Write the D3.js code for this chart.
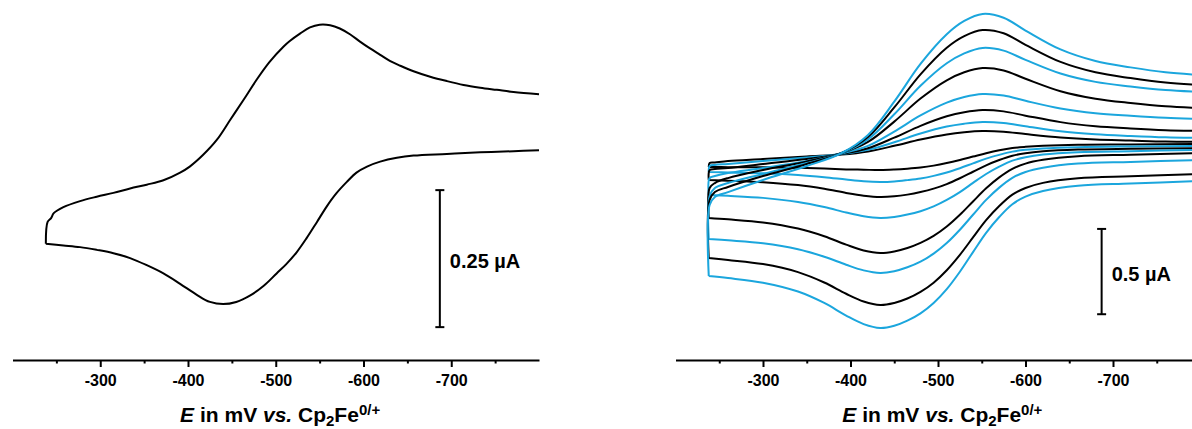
<!DOCTYPE html>
<meta charset="utf-8">
<script src="https://cdn.jsdelivr.net/npm/d3@7"></script>
<style>
  body { margin: 0; background: #fff; }
  svg { display: block; font-family: "Liberation Sans", Arial, sans-serif; }
  .axis path, .axis line { stroke: #000; stroke-width: 2px; }
  .axis text { font-size: 16px; font-weight: bold; fill: #000; font-family: "Liberation Sans", Arial, sans-serif; }
  .cv { fill: none; stroke-width: 2px; stroke-linejoin: round; }
  .bar { stroke: #000; stroke-width: 2px; }
  .label { font-size: 20px; font-weight: bold; }
  .title { font-size: 21px; font-weight: bold; }
</style>
<div id="chart"></div>
<script>
  var width = 1192;
  var height = 429;

  // axis ticks (mV)
  var majorTicks = [-300, -400, -500, -600, -700];
  var minorTicks = [-250, -350, -450, -550, -650, -750];

  // left panel: single CV, E in mV, i in uA
  var leftFwdE = [-238, -240, -244, -247, -258, -277, -296, -315, -334, -353, -372, -391, -402, -417, -433, -448, -463, -478, -493, -509, -516, -528, -539, -550, -562, -573, -585, -596, -607, -619, -630, -642, -657, -676, -695, -714, -733, -752, -771, -800];
  var leftFwdI = [-0.080, -0.040, -0.033, -0.024, -0.013, -0.002, 0.006, 0.013, 0.021, 0.028, 0.036, 0.050, 0.061, 0.082, 0.110, 0.146, 0.182, 0.219, 0.252, 0.280, 0.290, 0.304, 0.315, 0.320, 0.319, 0.313, 0.302, 0.289, 0.277, 0.265, 0.254, 0.245, 0.235, 0.225, 0.217, 0.210, 0.205, 0.201, 0.197, 0.193];
  var leftRevE = [-800, -771, -733, -695, -657, -638, -619, -604, -592, -581, -569, -558, -547, -535, -524, -512, -501, -486, -471, -455, -440, -425, -410, -391, -372, -353, -334, -315, -296, -277, -258, -238];
  var leftRevI = [0.091, 0.089, 0.087, 0.084, 0.081, 0.077, 0.070, 0.061, 0.050, 0.033, 0.012, -0.012, -0.040, -0.070, -0.095, -0.117, -0.134, -0.157, -0.174, -0.186, -0.190, -0.186, -0.173, -0.153, -0.134, -0.119, -0.106, -0.097, -0.091, -0.086, -0.083, -0.080];

  // right panel: scan-rate series, shared potentials
  var fwdE = [-238, -239, -245, -260, -300, -350, -390, -420, -450, -480, -510, -530, -551, -575, -600, -640, -680, -720, -760, -800];
  var revE = [-800, -720, -660, -620, -600, -585, -570, -555, -540, -525, -510, -495, -480, -465, -450, -434, -415, -395, -370, -340, -300, -260, -238];

  var c1Fwd = [-0.041, -0.018, -0.015, -0.006, 0.006, 0.021, 0.032, 0.050, 0.083, 0.120, 0.150, 0.163, 0.170, 0.166, 0.152, 0.132, 0.120, 0.114, 0.108, 0.106];
  var c1Rev = [0.094, 0.091, 0.089, 0.083, 0.077, 0.070, 0.057, 0.040, 0.020, 0, -0.018, -0.033, -0.044, -0.051, -0.056, -0.059, -0.057, -0.055, -0.050, -0.046, -0.043, -0.042, -0.041];
  var c2Fwd = [-0.070, -0.035, -0.029, -0.023, -0.006, 0.015, 0.035, 0.060, 0.104, 0.155, 0.196, 0.213, 0.223, 0.217, 0.198, 0.168, 0.151, 0.141, 0.133, 0.129];
  var c2Rev = [0.082, 0.079, 0.075, 0.068, 0.060, 0.049, 0.030, 0.008, -0.020, -0.048, -0.073, -0.093, -0.108, -0.118, -0.126, -0.129, -0.125, -0.115, -0.101, -0.088, -0.078, -0.073, -0.070];
  var c3Fwd = [-0.117, -0.059, -0.053, -0.047, -0.023, 0.006, 0.035, 0.069, 0.131, 0.200, 0.256, 0.280, 0.293, 0.285, 0.260, 0.222, 0.198, 0.185, 0.175, 0.170];
  var c3Rev = [0.070, 0.066, 0.061, 0.051, 0.040, 0.025, 0, -0.031, -0.069, -0.107, -0.141, -0.168, -0.188, -0.203, -0.213, -0.217, -0.209, -0.193, -0.169, -0.147, -0.130, -0.121, -0.117];
  var c4Fwd = [-0.205, -0.106, -0.094, -0.076, -0.047, -0.006, 0.038, 0.083, 0.167, 0.261, 0.336, 0.369, 0.387, 0.378, 0.347, 0.302, 0.274, 0.259, 0.247, 0.240];
  var c4Rev = [0.059, 0.052, 0.046, 0.032, 0.016, -0.004, -0.039, -0.082, -0.134, -0.188, -0.234, -0.272, -0.300, -0.320, -0.334, -0.340, -0.330, -0.308, -0.276, -0.246, -0.222, -0.210, -0.205];
  var c5Fwd = [-0.340, -0.164, -0.135, -0.106, -0.059, -0.009, 0.041, 0.106, 0.225, 0.360, 0.467, 0.514, 0.539, 0.525, 0.476, 0.403, 0.359, 0.334, 0.315, 0.305];
  var c5Rev = [0.041, 0.031, 0.022, 0.001, -0.021, -0.052, -0.102, -0.166, -0.243, -0.321, -0.390, -0.445, -0.486, -0.516, -0.536, -0.545, -0.530, -0.496, -0.447, -0.402, -0.366, -0.348, -0.340];
  var c6Fwd = [-0.463, -0.211, -0.164, -0.135, -0.082, -0.018, 0.041, 0.121, 0.268, 0.435, 0.567, 0.625, 0.657, 0.641, 0.587, 0.507, 0.458, 0.431, 0.410, 0.399];
  var c6Rev = [0, -0.011, -0.021, -0.045, -0.070, -0.105, -0.162, -0.234, -0.321, -0.409, -0.487, -0.549, -0.596, -0.629, -0.652, -0.662, -0.647, -0.614, -0.567, -0.523, -0.488, -0.471, -0.463];
  var c7Fwd = [-0.574, -0.234, -0.188, -0.158, -0.094, -0.023, 0.041, 0.135, 0.308, 0.502, 0.658, 0.726, 0.762, 0.743, 0.675, 0.575, 0.514, 0.480, 0.454, 0.440];
  var c7Rev = [-0.082, -0.095, -0.107, -0.134, -0.164, -0.203, -0.270, -0.353, -0.454, -0.556, -0.646, -0.719, -0.773, -0.812, -0.838, -0.850, -0.829, -0.784, -0.718, -0.657, -0.610, -0.586, -0.574];
  var c8Fwd = [-0.680, -0.264, -0.217, -0.188, -0.117, -0.035, 0.041, 0.147, 0.342, 0.563, 0.737, 0.815, 0.856, 0.834, 0.759, 0.648, 0.580, 0.543, 0.514, 0.498];
  var c8Rev = [-0.123, -0.138, -0.151, -0.182, -0.215, -0.259, -0.334, -0.427, -0.540, -0.655, -0.757, -0.838, -0.899, -0.942, -0.972, -0.985, -0.962, -0.912, -0.838, -0.771, -0.719, -0.692, -0.680];

  var rightSeries = [
    [c1Fwd, c1Rev], [c2Fwd, c2Rev], [c3Fwd, c3Rev], [c4Fwd, c4Rev],
    [c5Fwd, c5Rev], [c6Fwd, c6Rev], [c7Fwd, c7Rev], [c8Fwd, c8Rev]
  ];
  var seriesColor = ["#000", "#1ba6dd", "#000", "#1ba6dd", "#000", "#1ba6dd", "#000", "#1ba6dd"];

  // scale bars: position (mV), lower end (uA), length (uA)
  var leftBar = { e: -687, from: -0.232, len: 0.25, text: "0.25 µA" };
  var rightBar = { e: -687, from: -0.904, len: 0.5, text: "0.5 µA" };

  var svg = d3.select("#chart").append("svg")
    .attr("width", width)
    .attr("height", height);

  var panels = [
    { x: d3.scaleLinear().domain([-200, -800]).range([12.5, 539]),
      y: d3.scaleLinear().domain([0, 0.25]).range([200, 63]), bar: leftBar },
    { x: d3.scaleLinear().domain([-200, -800]).range([675.5, 1200.5]),
      y: d3.scaleLinear().domain([0, 0.5]).range([160, 74.7]), bar: rightBar }
  ];

  function zip(es, is) { return es.map(function (e, i) { return [e, is[i]]; }); }

  panels.forEach(function (p, k) {
    var line = d3.line()
      .x(function (d) { return p.x(d[0]); })
      .y(function (d) { return p.y(d[1]); })
      .curve(d3.curveCatmullRom.alpha(0.5));

    if (k === 0) {
      svg.append("path").attr("class", "cv").attr("stroke", "#000")
        .attr("d", line(zip(leftRevE, leftRevI)) + line(zip(leftFwdE, leftFwdI)));
    } else {
      rightSeries.forEach(function (s, i) {
        svg.append("path").attr("class", "cv").attr("stroke", seriesColor[i])
          .attr("d", line(zip(revE, s[1])) + line(zip(fwdE, s[0])));
      });
    }

    // x axis
    var gx = svg.append("g").attr("class", "axis").attr("transform", "translate(0,360)");
    gx.call(d3.axisBottom(p.x).tickValues(majorTicks).tickSize(7).tickSizeOuter(0)
      .tickPadding(7.3).tickFormat(function (d) { return String(d); }));
    var gm = svg.append("g").attr("class", "axis").attr("transform", "translate(0,360)");
    gm.call(d3.axisBottom(p.x).tickValues(minorTicks).tickSize(3.5).tickSizeOuter(0).tickFormat(""));
    gm.select(".domain").remove();

    // axis title
    var t = svg.append("text").attr("class", "title")
      .attr("x", p.x(-505)).attr("y", 422).attr("text-anchor", "middle");
    t.append("tspan").attr("font-style", "italic").text("E");
    t.append("tspan").text(" in mV ");
    t.append("tspan").attr("font-style", "italic").text("vs.");
    t.append("tspan").text(" Cp");
    t.append("tspan").attr("font-size", "15px").attr("dy", 4).text("2");
    t.append("tspan").attr("dy", -4).text("Fe");
    t.append("tspan").attr("font-size", "15px").attr("dy", -7).text("0/+");

    // scale bar
    var b = p.bar, bx = p.x(b.e), y0 = p.y(b.from), y1 = p.y(b.from + b.len);
    svg.append("line").attr("class", "bar").attr("x1", bx).attr("x2", bx).attr("y1", y0).attr("y2", y1);
    [y0, y1].forEach(function (yy) {
      svg.append("line").attr("class", "bar").attr("x1", bx - 4.5).attr("x2", bx + 4.5).attr("y1", yy).attr("y2", yy);
    });
    svg.append("text").attr("class", "label").attr("x", bx + 10).attr("y", (y0 + y1) / 2 + 2)
      .attr("dy", "0.35em").text(b.text);
  });
</script>
